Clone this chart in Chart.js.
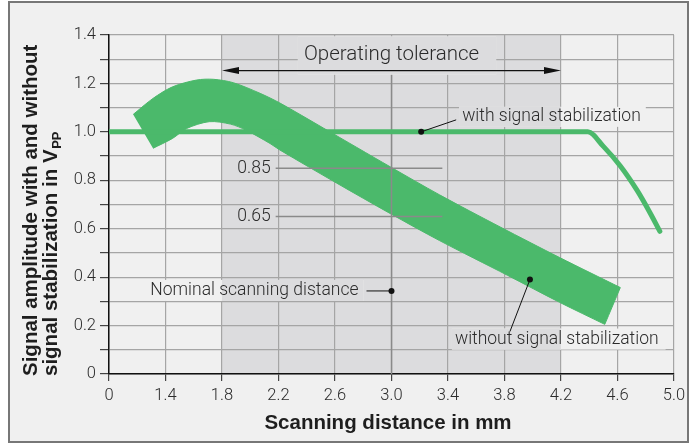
<!DOCTYPE html>
<html>
<head>
<meta charset="utf-8">
<script src="https://cdn.jsdelivr.net/npm/chart.js@4.4.1/dist/chart.umd.min.js"></script>
<style>
  html, body { margin: 0; padding: 0; background: #fff; }
  #wrap { width: 692px; height: 444px; }
</style>
</head>
<body>
<div id="wrap"><canvas id="chart" width="692" height="444"></canvas></div>
<script>
// ---- Data (x in mm, y in Vpp) ----
const xTickValues = [0, 1.4, 1.8, 2.2, 2.6, 3.0, 3.4, 3.8, 4.2, 4.6, 5.0];
const xTickLabels = ['0', '1.4', '1.8', '2.2', '2.6', '3.0', '3.4', '3.8', '4.2', '4.6', '5.0'];
const yTickLabels = ['0', '0.2', '0.4', '0.6', '0.8', '1.0', '1.2', '1.4'];

// with signal stabilization
const stabX = [0, 4.39, 4.50, 4.62, 4.74, 4.83, 4.90];
const stabY = [1.0, 1.0, 0.940, 0.859, 0.757, 0.666, 0.589];

// without signal stabilization (band: upper edge, lower edge)
const bandTopX = [0.60, 1.09, 1.45, 1.62, 1.74, 1.88, 2.07, 2.21, 2.52, 2.99, 3.34, 3.77, 4.19, 4.62];
const bandTopY = [1.072, 1.138, 1.186, 1.214, 1.217, 1.203, 1.159, 1.119, 1.015, 0.856, 0.740, 0.607, 0.481, 0.357];
const bandLowX = [1.09, 1.45, 1.55, 1.71, 1.86, 1.97, 2.14, 2.21, 2.61, 2.99, 3.34, 3.82, 4.19, 4.51];
const bandLowY = [0.932, 0.973, 1.014, 1.042, 1.032, 1.007, 0.952, 0.925, 0.789, 0.663, 0.551, 0.408, 0.296, 0.205];

// annotation anchors
const shadeFrom = 1.8, shadeTo = 4.2;
const nominal = 3.0;
const markLevels = [0.85, 0.65];
const markLabels = ['0.85', '0.65'];
const markFrom = 2.18, markTo = 3.36;
const arrowLevel = 1.253, tolLabelLevel = 1.318;
const stabDot = [3.21, 1.0];
const nominalDotLevel = 0.343;
const bandDot = [3.98, 0.39];

const GREEN = '#4bb96b';
const BG = '#f0f0f0';
const SHADE = '#dcdcde';
const GRID = '#a5a5a5';
const TEXT = '#2b2b2b';
const LIGHT = '300 17.5px Roboto, "Open Sans", sans-serif';
const BOLD = 'bold 20.5px "Liberation Sans", Arial, sans-serif';

// broken axis: each tick interval gets the same width
function xPos(mm) {
    for (let i = 1; i < xTickValues.length; i++) {
        if (mm <= xTickValues[i]) {
            const a = xTickValues[i - 1], b = xTickValues[i];
            return i - 1 + (mm - a) / (b - a);
        }
    }
    return xTickValues.length - 1;
}

const stabPoints = stabX.map((v, i) => ({ x: xPos(v), y: stabY[i] }));

// band outline; end points doubled so the cut ends stay sharp with tension on
function edge(xs, ys) {
    const pts = xs.map((v, i) => ({ x: xPos(v), y: ys[i] }));
    return [pts[0]].concat(pts, [pts[pts.length - 1]]);
}
const bandPoints = edge(bandTopX, bandTopY).concat(edge(bandLowX, bandLowY).reverse());

// fill a text box with whatever background sits under it
function bgBox(ctx, x, x1, y1, x2, y2) {
    const s1 = x.getPixelForValue(xPos(shadeFrom)), s2 = x.getPixelForValue(xPos(shadeTo));
    ctx.fillStyle = BG;
    ctx.fillRect(x1, y1, x2 - x1, y2 - y1);
    const a = Math.max(x1, s1), b = Math.min(x2, s2);
    if (b > a) {
        ctx.fillStyle = SHADE;
        ctx.fillRect(a, y1, b - a, y2 - y1);
    }
}

function dot(ctx, px, py) {
    ctx.fillStyle = '#111';
    ctx.beginPath();
    ctx.arc(px, py, 3, 0, Math.PI * 2);
    ctx.fill();
}

function line(ctx, x1, y1, x2, y2) {
    ctx.beginPath();
    ctx.moveTo(x1, y1);
    ctx.lineTo(x2, y2);
    ctx.stroke();
}

const annot = {
    id: 'annot',
    beforeDraw(chart) {
        const { ctx, chartArea: a, scales: { x } } = chart;
        ctx.save();
        ctx.fillStyle = '#fff';
        ctx.fillRect(0, 0, chart.width, chart.height);
        ctx.fillStyle = BG;
        ctx.fillRect(9, 2, 679, 440);
        ctx.strokeStyle = '#777';
        ctx.lineWidth = 2;
        ctx.strokeRect(9, 2, 679, 440);
        const s1 = x.getPixelForValue(xPos(shadeFrom)), s2 = x.getPixelForValue(xPos(shadeTo));
        ctx.fillStyle = SHADE;
        ctx.fillRect(s1, a.top, s2 - s1, a.bottom - a.top);
        ctx.restore();
    },
    afterDatasetDraw(chart, args) {
        if (args.index !== 1) return;
        const { ctx, chartArea: a, scales: { x, y } } = chart;
        ctx.save();
        ctx.strokeStyle = '#8a8a8a';
        ctx.lineWidth = 1.5;
        const nx = x.getPixelForValue(xPos(nominal));
        line(ctx, nx, y.getPixelForValue(arrowLevel) + 3, nx, a.bottom);
        const m1 = x.getPixelForValue(xPos(markFrom)), m2 = x.getPixelForValue(xPos(markTo));
        markLevels.forEach(v => {
            const py = y.getPixelForValue(v);
            line(ctx, m1, py, m2, py);
        });
        ctx.restore();
    },
    afterDatasetsDraw(chart) {
        const { ctx, chartArea: a, scales: { x, y } } = chart;
        ctx.save();
        ctx.textBaseline = 'middle';

        // Operating tolerance
        const s1 = x.getPixelForValue(xPos(shadeFrom)), s2 = x.getPixelForValue(xPos(shadeTo));
        const ay = y.getPixelForValue(arrowLevel);
        const ty = y.getPixelForValue(tolLabelLevel);
        const cx = x.getPixelForValue(xPos(nominal));
        ctx.font = '300 20.5px Roboto, "Open Sans", sans-serif';
        const tw = ctx.measureText('Operating tolerance').width;
        bgBox(ctx, x, cx - tw / 2 - 6, a.top + 1.5, cx + tw / 2 + 17, ay + 4);
        ctx.strokeStyle = '#111';
        ctx.fillStyle = '#111';
        ctx.lineWidth = 1.3;
        line(ctx, s1 + 10, ay, s2 - 10, ay);
        [[s1, 1], [s2, -1]].forEach(([px, d]) => {
            ctx.beginPath();
            ctx.moveTo(px, ay);
            ctx.lineTo(px + d * 17, ay - 3.5);
            ctx.lineTo(px + d * 17, ay + 3.5);
            ctx.closePath();
            ctx.fill();
        });
        ctx.fillStyle = TEXT;
        ctx.textAlign = 'center';
        ctx.fillText('Operating tolerance', cx, ty);

        // 0.85 / 0.65 labels
        ctx.font = LIGHT;
        ctx.textAlign = 'right';
        const m1 = x.getPixelForValue(xPos(markFrom));
        markLevels.forEach((v, i) => {
            ctx.fillStyle = TEXT;
            ctx.fillText(markLabels[i], m1 - 5, y.getPixelForValue(v));
        });

        // with signal stabilization
        ctx.strokeStyle = '#111';
        ctx.lineWidth = 1;
        let dx = x.getPixelForValue(xPos(stabDot[0])), dy = y.getPixelForValue(stabDot[1]);
        ctx.textAlign = 'left';
        let w = ctx.measureText('with signal stabilization').width;
        bgBox(ctx, x, dx + 38, dy - 25, dx + 42 + w + 4, dy - 5);
        line(ctx, dx, dy, dx + 35, dy - 12);
        dot(ctx, dx, dy);
        ctx.fillStyle = TEXT;
        ctx.fillText('with signal stabilization', dx + 41, dy - 15);

        // Nominal scanning distance
        dx = x.getPixelForValue(xPos(nominal));
        dy = y.getPixelForValue(nominalDotLevel);
        w = ctx.measureText('Nominal scanning distance').width;
        ctx.textAlign = 'right';
        bgBox(ctx, x, dx - 33 - w - 5, dy - 11, dx - 28, dy + 10);
        line(ctx, dx - 25, dy, dx, dy);
        dot(ctx, dx, dy);
        ctx.fillStyle = TEXT;
        ctx.fillText('Nominal scanning distance', dx - 33, dy);

        // without signal stabilization
        dx = x.getPixelForValue(xPos(bandDot[0]));
        dy = y.getPixelForValue(bandDot[1]);
        w = ctx.measureText('without signal stabilization').width;
        const lx = dx - 20, ly = dy + 52;
        bgBox(ctx, x, lx - 58, ly - 3, lx - 54 + w + 6, ly + 18);
        line(ctx, dx, dy, lx, ly);
        dot(ctx, dx, dy);
        ctx.fillStyle = TEXT;
        ctx.textAlign = 'left';
        ctx.fillText('without signal stabilization', lx - 55, ly + 8);
        ctx.restore();
    },
    afterDraw(chart) {
        const { ctx, chartArea: a } = chart;
        ctx.save();
        ctx.fillStyle = '#1e1e1e';
        // y title (two lines, rotated, start aligned)
        ctx.translate(36.5, a.bottom + 2);
        ctx.rotate(-Math.PI / 2);
        ctx.textAlign = 'left';
        ctx.textBaseline = 'alphabetic';
        ctx.font = BOLD;
        ctx.fillText('Signal amplitude with and without', 0, 0);
        const l2 = 'signal stabilization in V';
        ctx.fillText(l2, 0, 20);
        const w2 = ctx.measureText(l2).width;
        ctx.font = 'bold 13px "Liberation Sans", Arial, sans-serif';
        ctx.fillText('PP', w2 + 0.5, 24);
        ctx.restore();

        ctx.save();
        ctx.fillStyle = '#1e1e1e';
        ctx.font = BOLD;
        ctx.textAlign = 'center';
        ctx.fillText('Scanning distance in mm', 388, 429);
        ctx.restore();
    }
};

const chart = new Chart(document.getElementById('chart'), {
    type: 'scatter',
    data: {
        datasets: [
            { data: stabPoints, showLine: true, borderColor: GREEN, borderWidth: 5, borderCapStyle: 'round',
              pointRadius: 0, cubicInterpolationMode: 'monotone', fill: false },
            { data: bandPoints, showLine: true, fill: 'shape', backgroundColor: GREEN, borderColor: GREEN,
              borderWidth: 1, pointRadius: 0, tension: 0.3 }
        ]
    },
    options: {
        responsive: false,
        animation: false,
        layout: { padding: { top: 35, right: 18, left: 0, bottom: 0 } },
        plugins: { legend: { display: false }, tooltip: { enabled: false } },
        scales: {
            x: {
                type: 'linear', min: 0, max: xTickValues.length - 1,
                afterFit: s => { s.height = 70; },
                ticks: { stepSize: 1, color: TEXT, padding: 5, maxRotation: 0,
                         font: { family: 'Roboto', size: 16.5, weight: '300' },
                         callback: v => xTickLabels[Math.round(v)] },
                grid: { color: GRID, lineWidth: 1.2, tickColor: '#444', tickLength: 7 },
                border: { color: '#111', width: 1.5 }
            },
            y: {
                min: 0, max: 1.4,
                afterFit: s => { s.width = 109; },
                ticks: { stepSize: 0.1, color: TEXT, padding: 4,
                         font: { family: 'Roboto', size: 16.5, weight: '300' },
                         callback: v => { const k = Math.round(v * 10); return k % 2 === 0 ? yTickLabels[k / 2] : ''; } },
                grid: { color: GRID, lineWidth: 1.2, tickColor: '#444', tickLength: 9 },
                border: { color: '#111', width: 1.5 }
            }
        }
    },
    plugins: [annot]
});
</script>
</body>
</html>
